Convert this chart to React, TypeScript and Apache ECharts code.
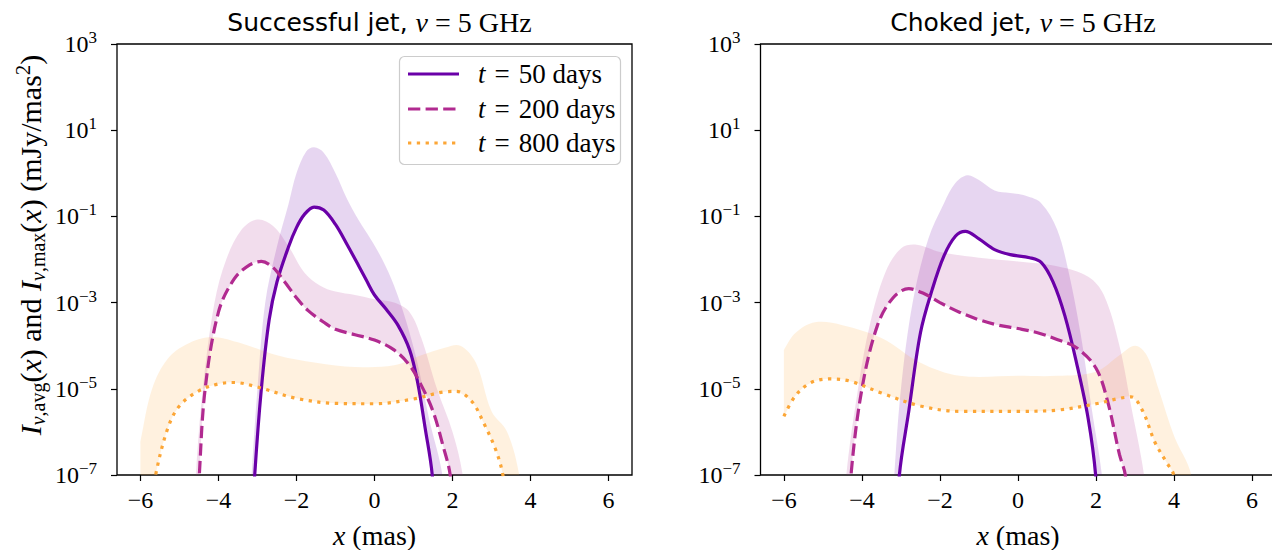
import React, { useEffect, useRef } from 'react';
import * as echarts from 'echarts';

const X_TICKS = [-6, -4, -2, 0, 2, 4, 6];
const Y_TICK_EXPONENTS = [-7, -5, -3, -1, 1, 3];
const X_RANGE = [-6.6, 6.6];
const Y_EXP_RANGE = [-7, 3];

const PANEL_TITLES = ['Successful jet, ', 'Choked jet, '];
const TIMES = [50, 200, 800];
const COLORS = ['#6a00a8', '#b12a90', '#fca636'];

// ---------- Successful jet: average intensity ----------
const succAvg50: [number, number][] = [
  [-3.19, 1e-9], [-3.07, 1e-7], [-2.9, 1e-5], [-2.7, 4e-4], [-2.5, 3e-3], [-2.2, 2e-2], [-2.0, 5.5e-2],
  [-1.8, 1.1e-1], [-1.55, 1.65e-1], [-1.3, 1.4e-1], [-1.0, 6.5e-2], [-0.7, 2.2e-2],
  [-0.4, 7e-3], [-0.2, 3.2e-3], [0, 1.5e-3], [0.3, 7e-4], [0.6, 3e-4], [0.9, 8e-5],
  [1.1, 1.5e-5], [1.3, 1.2e-6], [1.48, 1e-7], [1.62, 1e-9],
];
const succAvg200: [number, number][] = [
  [-4.6, 1e-9], [-4.49, 1e-7], [-4.34, 1e-5], [-4.0, 6e-4], [-3.6, 3.5e-3], [-3.2, 7.5e-3], [-2.9, 9e-3],
  [-2.6, 6.5e-3], [-2.3, 3e-3], [-2.0, 1.3e-3], [-1.7, 6.5e-4], [-1.3, 3.5e-4],
  [-1.0, 2.4e-4], [-0.5, 1.8e-4], [0, 1.35e-4], [0.5, 8e-5], [0.9, 3.5e-5],
  [1.2, 1.2e-5], [1.5, 3e-6], [1.75, 5e-7], [1.94, 1e-7], [2.15, 1e-9],
];
const succAvg800: [number, number][] = [
  [-6.0, 1e-9], [-5.61, 1e-7], [-5.3, 1.2e-6], [-5.0, 4e-6], [-4.5, 9e-6], [-4.0, 1.3e-5], [-3.6, 1.4e-5],
  [-3.0, 1.1e-5], [-2.0, 6e-6], [-1.0, 4.6e-6], [0, 4.5e-6], [1.0, 5.8e-6], [1.8, 8.5e-6],
  [2.1, 8.7e-6], [2.5, 5e-6], [2.8, 1.6e-6], [3.1, 4e-7], [3.29, 1e-7], [3.6, 1e-9],
];
// ---------- Successful jet: maximum intensity ----------
const succMax50: [number, number][] = [
  [-3.27, 1e-9], [-3.15, 1e-7], [-3.0, 1e-5], [-2.8, 1e-3], [-2.5, 2e-2], [-2.2, 2e-1], [-2.0, 1],
  [-1.75, 3.2], [-1.55, 4], [-1.3, 3], [-1.0, 1], [-0.7, 2.5e-1], [-0.4, 8e-2],
  [-0.1, 3e-2], [0.2, 1e-2], [0.5, 2.5e-3], [0.8, 4e-4], [1.1, 4e-5], [1.4, 2e-6], [1.74, 1e-7], [1.95, 1e-9],
];
const succMax200: [number, number][] = [
  [-4.7, 1e-9], [-4.58, 1e-7], [-4.4, 1e-5], [-4.1, 1e-3], [-3.8, 1e-2], [-3.4, 5e-2], [-3.0, 8.5e-2],
  [-2.6, 6e-2], [-2.2, 2e-2], [-1.8, 5e-3], [-1.4, 2.5e-3], [-1.0, 1.8e-3], [-0.5, 1.5e-3],
  [0, 1.2e-3], [0.5, 1e-3], [0.9, 6e-4], [1.2, 1.5e-4], [1.6, 1e-5], [2.0, 1e-6], [2.26, 1e-7], [2.5, 1e-9],
];
const succMax800: [number, number][] = [
  [-6.0, 6e-7], [-5.7, 1e-5], [-5.3, 5e-5], [-4.8, 1.1e-4], [-4.2, 1.6e-4], [-3.5, 1.2e-4],
  [-2.5, 6e-5], [-1.5, 4e-5], [-0.5, 3.2e-5], [0.5, 3.5e-5], [1.2, 6e-5], [1.8, 9e-5],
  [2.2, 1e-4], [2.6, 4e-5], [3.0, 3e-6], [3.4, 1e-6], [3.71, 1e-7], [4.0, 1e-9],
];

// ---------- Choked jet: average intensity ----------
const chokAvg50: [number, number][] = [
  [-3.16, 1e-9], [-3.04, 1e-7], [-2.8, 3e-6], [-2.5, 2e-4], [-2.2, 2e-3], [-1.9, 1.2e-2], [-1.6, 3.5e-2],
  [-1.35, 4.5e-2], [-1.0, 3e-2], [-0.6, 1.7e-2], [-0.2, 1.3e-2], [0.3, 1.1e-2], [0.6, 8.5e-3],
  [0.9, 3e-3], [1.2, 5e-4], [1.5, 4e-5], [1.8, 2e-6], [1.99, 1e-7], [2.12, 1e-9],
];
const chokAvg200: [number, number][] = [
  [-4.4, 1e-9], [-4.28, 1e-7], [-4.0, 1e-5], [-3.6, 3e-4], [-3.2, 1.3e-3], [-2.8, 2.1e-3], [-2.4, 1.6e-3],
  [-2.0, 1e-3], [-1.5, 6e-4], [-1.0, 4e-4], [-0.5, 3e-4], [0, 2.5e-4], [0.5, 2e-4],
  [1.0, 1.4e-4], [1.5, 9e-5], [2.0, 3e-5], [2.3, 5e-6], [2.6, 3e-7], [2.75, 1e-7], [2.95, 1e-9],
];
const chokAvg800: [number, number][] = [
  [-6.0, 2.3e-6], [-5.7, 7e-6], [-5.3, 1.4e-5], [-4.8, 1.7e-5], [-4.3, 1.5e-5], [-3.5, 8e-6],
  [-2.5, 4e-6], [-1.5, 3e-6], [0, 3e-6], [1.0, 3.2e-6], [2.0, 4.5e-6], [2.6, 6e-6],
  [2.9, 6.5e-6], [3.2, 3e-6], [3.5, 6e-7], [3.8, 2e-7], [3.99, 1e-7], [4.3, 1e-9],
];
// ---------- Choked jet: maximum intensity ----------
const chokMax50: [number, number][] = [
  [-3.3, 1e-9], [-3.17, 1e-7], [-3.0, 1e-5], [-2.7, 1e-3], [-2.3, 3e-2], [-1.9, 2e-1], [-1.6, 6e-1],
  [-1.3, 9e-1], [-1.0, 7e-1], [-0.6, 4e-1], [-0.2, 3.5e-1], [0.2, 3e-1], [0.6, 2e-1],
  [1.0, 5e-2], [1.3, 5e-3], [1.6, 2e-4], [1.9, 3e-6], [2.15, 1e-7], [2.35, 1e-9],
];
const chokMax200: [number, number][] = [
  [-4.55, 1e-9], [-4.4, 1e-7], [-4.1, 1e-5], [-3.8, 3e-4], [-3.4, 5e-3], [-3.0, 1.8e-2], [-2.6, 2.2e-2],
  [-2.0, 1.5e-2], [-1.0, 1.1e-2], [0, 9e-3], [1.0, 7e-3], [1.8, 4e-3], [2.2, 1.5e-3],
  [2.6, 1e-4], [2.9, 4e-6], [3.23, 1e-7], [3.45, 1e-9],
];
const chokMax800: [number, number][] = [
  [-6.0, 8e-5], [-5.7, 2e-4], [-5.2, 3.5e-4], [-4.5, 3e-4], [-3.5, 1.5e-4], [-2.5, 4e-5],
  [-1.5, 2e-5], [0, 2e-5], [1.0, 2e-5], [2.0, 2.5e-5], [2.6, 6e-5], [3.0, 1e-4],
  [3.3, 6e-5], [3.6, 1e-5], [4.0, 8e-7], [4.44, 1e-7], [4.7, 1e-9],
];

const PANEL_AVG = [[succAvg50, succAvg200, succAvg800], [chokAvg50, chokAvg200, chokAvg800]];
const PANEL_MAX = [[succMax50, succMax200, succMax800], [chokMax50, chokMax200, chokMax800]];

const SERIF = 'Liberation Serif';
const SANS = 'DejaVu Sans';

const LINE_TYPES: any[] = ['solid', [12.3, 5.3], [3.3, 5.5]];
const BAND_ALPHA = 0.16;
const SMOOTH = 0.35;

function toLog(pairs: [number, number][]) {
  return pairs.map(([x, v]) => [x, Math.log10(v)]);
}

function hexToRgba(hex: string, a: number) {
  const n = parseInt(hex.slice(1), 16);
  return `rgba(${(n >> 16) & 255},${(n >> 8) & 255},${n & 255},${a})`;
}

function makeRich(fs: number, lh: number) {
  const s = Math.round(fs * 0.68);
  return {
    rm: { fontFamily: SERIF, fontSize: fs, fontWeight: 'normal', lineHeight: lh, color: '#000' },
    it: { fontFamily: SERIF, fontSize: fs, fontWeight: 'normal', fontStyle: 'italic', lineHeight: lh, color: '#000' },
    sub: { fontFamily: SERIF, fontSize: s, fontWeight: 'normal', lineHeight: s + 1, verticalAlign: 'bottom', color: '#000' },
    subi: { fontFamily: SERIF, fontSize: s, fontWeight: 'normal', fontStyle: 'italic', lineHeight: s + 1, verticalAlign: 'bottom', color: '#000' },
    sup: { fontFamily: SERIF, fontSize: Math.round(fs * 0.7), fontWeight: 'normal', lineHeight: Math.round(fs * 0.7), verticalAlign: 'top', color: '#000' },
    sans: { fontFamily: SANS, fontSize: fs - 3, fontWeight: 'normal', lineHeight: lh, color: '#000' },
  };
}

const tickRich = makeRich(24, 30);
const titleRich = makeRich(28, 34);
const xLabelRich = makeRich(28, 26);
const yLabelRich = makeRich(30, 36);
const legendRich = makeRich(27, 32);

function fmtExp(v: number) {
  return String(Math.round(v)).replace('-', '\u2212');
}

// helper vertices close to a junction so the smoothed outline keeps a sharp corner there
function sharpJoin(a: number[], b: number[]) {
  const f = 0.02;
  return [
    [a[0] + (b[0] - a[0]) * f, a[1] + (b[1] - a[1]) * f],
    [b[0] - (b[0] - a[0]) * f, b[1] - (b[1] - a[1]) * f],
  ];
}

function bandSeries(panel: number, k: number) {
  const upper = toLog(PANEL_MAX[panel][k]);
  const lower = toLog(PANEL_AVG[panel][k]);
  return {
    type: 'custom',
    xAxisIndex: panel,
    yAxisIndex: panel,
    coordinateSystem: 'cartesian2d',
    data: [[0, 0]],
    encode: { x: 0, y: 1 },
    silent: true,
    z: 1,
    renderItem: (params: any, api: any) => {
      const up = upper.map((p) => api.coord(p));
      const lo = lower.slice().reverse().map((p) => api.coord(p));
      const pts = [
        ...up,
        ...sharpJoin(up[up.length - 1], lo[0]),
        ...lo,
        ...sharpJoin(lo[lo.length - 1], up[0]),
      ];
      const cs = params.coordSys;
      return {
        type: 'group',
        clipPath: { type: 'rect', shape: { x: cs.x, y: cs.y, width: cs.width, height: cs.height } },
        children: [
          {
            type: 'polygon',
            shape: { points: pts, smooth: SMOOTH },
            style: { fill: hexToRgba(COLORS[k], BAND_ALPHA), stroke: 'none' },
          },
        ],
      };
    },
  };
}

export default function App() {
  const ref = useRef<HTMLDivElement>(null);

  useEffect(() => {
    if (!ref.current) return;
    const chart = echarts.init(ref.current, null, { renderer: 'svg' });

    const grids = [
      { left: 117, top: 44, width: 515, height: 431 },
      { left: 760.5, top: 44, width: 515, height: 431 },
    ].map((g) => ({
      ...g,
      show: true,
      containLabel: false,
      outerBoundsMode: 'none',
      borderColor: '#000',
      borderWidth: 1.3,
      backgroundColor: 'transparent',
    }));

    const xAxes = [0, 1].map((i) => ({
      type: 'value',
      gridIndex: i,
      min: X_RANGE[0],
      max: X_RANGE[1],
      axisLine: { show: false, onZero: false },
      splitLine: { show: false },
      axisTick: { show: true, customValues: X_TICKS, length: 6, lineStyle: { color: '#000', width: 1.2 } },
      axisLabel: {
        customValues: X_TICKS,
        margin: 13,
        color: '#000',
        fontFamily: SERIF,
        fontSize: 24,
        formatter: (v: number) => (v < 0 ? '\u2212' + Math.abs(v) : String(v)),
      },
      name: '{it|x}{rm| (mas)}',
      nameLocation: 'middle',
      nameGap: 47,
      nameTextStyle: { rich: xLabelRich },
    }));

    const yAxes = [0, 1].map((i) => ({
      type: 'value',
      gridIndex: i,
      min: Y_EXP_RANGE[0],
      max: Y_EXP_RANGE[1],
      axisLine: { show: false, onZero: false },
      splitLine: { show: false },
      axisTick: { show: true, customValues: Y_TICK_EXPONENTS, length: 6, lineStyle: { color: '#000', width: 1.2 } },
      axisLabel: {
        customValues: Y_TICK_EXPONENTS,
        margin: 20,
        formatter: (v: number) => `{rm|10}{sup|${fmtExp(v)}}`,
        rich: tickRich,
      },
    }));

    const series: any[] = [];
    [0, 1].forEach((p) => {
      [0, 1, 2].forEach((k) => series.push(bandSeries(p, k)));
      PANEL_AVG[p].forEach((data, k) => {
        series.push({
          type: 'line',
          xAxisIndex: p,
          yAxisIndex: p,
          data: toLog(data),
          smooth: SMOOTH,
          symbol: 'none',
          lineStyle: { width: 3.2, color: COLORS[k], type: LINE_TYPES[k], cap: 'butt' },
          z: 3,
          silent: true,
        });
      });
    });

    const titles = [0, 1].map((i) => ({
      text: `{sans|${PANEL_TITLES[i]}}{it|ν}{rm| = 5 GHz}`,
      left: i === 0 ? 374.5 : 1018,
      top: 0,
      textAlign: 'center',
      textStyle: { rich: titleRich, fontWeight: 'normal' },
    }));

    // legend + y-axis title (graphic elements)
    const legendRows = [74, 109, 143];
    const graphicEls: any[] = [
      {
        type: 'text',
        x: 30,
        y: 245,
        rotation: Math.PI / 2,
        style: {
          text: '{it|I}{subi|ν}{sub|,avg}{rm|(}{it|x}{rm|) and }{it|I}{subi|ν}{sub|,max}{rm|(}{it|x}{rm|) (mJy/mas}{sup|2}{rm|)}',
          rich: yLabelRich,
          align: 'center',
          verticalAlign: 'middle',
        },
      },
      {
        type: 'rect',
        shape: { x: 399.5, y: 56.5, width: 221, height: 108, r: 5 },
        style: { fill: 'rgba(255,255,255,0.8)', stroke: '#cccccc', lineWidth: 1.2 },
        z: 10,
      },
    ];
    TIMES.forEach((t, k) => {
      graphicEls.push({
        type: 'line',
        shape: { x1: 408, y1: legendRows[k], x2: 459, y2: legendRows[k] },
        style: { stroke: COLORS[k], lineWidth: 3.2, lineDash: LINE_TYPES[k] === 'solid' ? null : LINE_TYPES[k] },
        z: 11,
      });
      graphicEls.push({
        type: 'text',
        x: 478,
        y: legendRows[k],
        style: {
          text: `{it|t}{rm|\u2004=\u2004${t} days}`,
          rich: legendRich,
          verticalAlign: 'middle',
          align: 'left',
        },
        z: 11,
      });
    });

    chart.setOption({
      animation: false,
      backgroundColor: '#fff',
      title: titles,
      grid: grids,
      xAxis: xAxes,
      yAxis: yAxes,
      series,
      graphic: graphicEls,
    });

    return () => chart.dispose();
  }, []);

  return <div ref={ref} style={{ position: 'fixed', left: 0, top: 0, width: 1272, height: 550 }} />;
}
